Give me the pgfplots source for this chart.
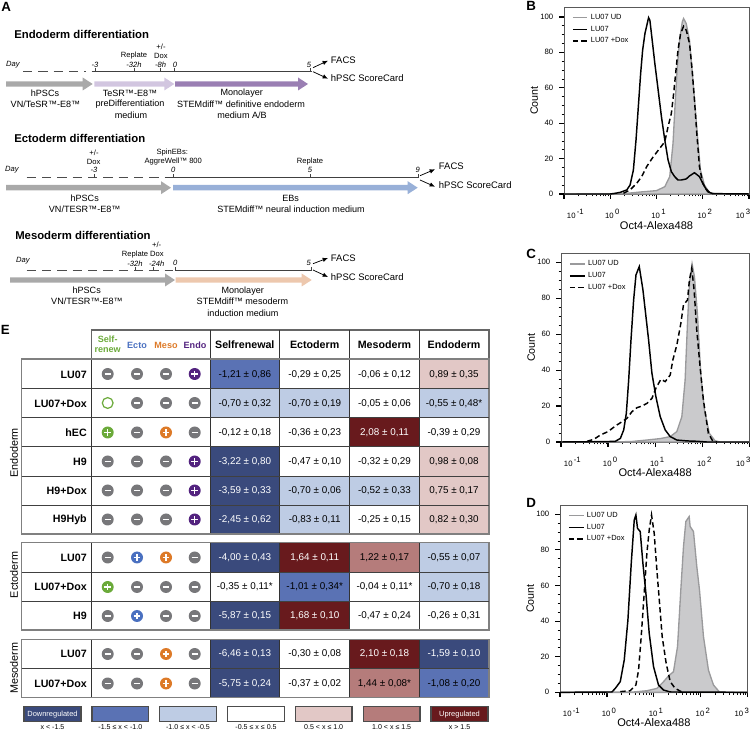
\documentclass[border=0pt]{standalone}
\usepackage{fontspec}
\setmainfont{Liberation Sans}
\usepackage{pgfplots}
\pgfplotsset{compat=1.18}
\definecolor{cDB}{HTML}{3A4A7C}
\definecolor{cMB}{HTML}{5A72B4}
\definecolor{cLB}{HTML}{BECCE4}
\definecolor{cPR}{HTML}{E2C8C6}
\definecolor{cMR}{HTML}{B57C7B}
\definecolor{cDR}{HTML}{681A1D}
\definecolor{cGreen}{HTML}{6BAA3A}
\definecolor{cBlue}{HTML}{4A70C0}
\definecolor{cOrange}{HTML}{DD7A28}
\definecolor{cPurple}{HTML}{53237F}
\definecolor{cIcon}{HTML}{77777A}
\definecolor{cFill}{HTML}{CACACC}
\definecolor{cEdge}{HTML}{9A9A9C}
\definecolor{aGray}{HTML}{A9A9A9}
\definecolor{aLilac}{HTML}{D2C6E0}
\definecolor{aPurple}{HTML}{9A7FB3}
\definecolor{aBlue}{HTML}{98B0D8}
\definecolor{aPeach}{HTML}{EDC8AE}
\newcommand\F[1]{\fontsize{#1}{#1}\selectfont}
\newcommand\TL[1]{10\,\raisebox{2.6pt}{#1}}
\pgfplotsset{flow/.style={
  scale only axis, xmin=-1,xmax=3,ymin=0, clip=false,
  axis line style={draw=black!65,line width=0.6pt},
  xtick={-1,0,1,2,3},
  xticklabels={\hspace*{17pt}\TL{-1},\hspace*{3pt}\TL{0},\hspace*{3pt}\TL{1},\hspace*{3pt}\TL{2},\TL{3}\hspace*{9pt}},
  minor xtick={-0.699,-0.523,-0.398,-0.301,-0.222,-0.155,-0.097,-0.046,0.301,0.477,0.602,0.699,0.778,0.845,0.903,0.954,1.301,1.477,1.602,1.699,1.778,1.845,1.903,1.954,2.301,2.477,2.602,2.699,2.778,2.845,2.903,2.954},
  ytick={0,20,40,60,80,100},
  minor ytick={5,10,15,25,30,35,45,50,55,65,70,75,85,90,95},
  tick align=outside, xtick pos=bottom, ytick pos=left,
  major tick length=3.5pt, minor tick length=1.8pt,
  major tick style={black,line width=0.9pt},
  minor tick style={black,line width=0.5pt},
  ticklabel style={font=\F{5.8}},
  /pgf/number format/assume math mode=true,
  xticklabel style={yshift=-4.5pt},
  yticklabel style={xshift=-1pt},
  xlabel={Oct4-Alexa488}, ylabel={Count},
  xlabel style={font=\F{8.3}},
  ylabel style={font=\F{8},yshift=-5pt},
  legend cell align=left,
  legend image code/.code={\draw[#1,fill=none] (0,0)--(11pt,0);},
  legend style={draw=none,fill=none,at={(0.035,0.985)},anchor=north west,font=\F{5.6},row sep=-0.6pt,inner sep=1pt},
  gr/.style={draw=cEdge,fill=cFill,line width=1pt},
  so/.style={black,line width=1.1pt},
  da/.style={black,line width=1.1pt,dash pattern=on 4pt off 2.4pt},
}}
% text helpers for the scope with pixel coordinates
\newcommand\Sm[3]{\node[font=\F{5.7},inner sep=0] at (#1,#2) {#3};}
\newcommand\It[3]{\node[font=\F{5.7}\itshape,inner sep=0] at (#1,#2) {#3};}
\newcommand\Ml[3]{\node[font=\F{6.8},inner sep=0] at (#1,#2) {#3};}
\newcommand\Ti[3]{\node[font=\F{8.5}\bfseries,anchor=west,inner sep=0] at (#1,#2) {#3};}
\newcommand\Pa[3]{\node[font=\F{10}\bfseries,anchor=west,inner sep=0] at (#1,#2) {#3};}
\newcommand\Ou[3]{\node[font=\F{7.1},anchor=west,inner sep=0] at (#1,#2) {#3};}
\newcommand\BA[4]{\fill[#4] (#1,{#3-2.7}) -- ({#2-10},{#3-2.7}) -- ({#2-10},{#3-6.5}) -- (#2,#3) -- ({#2-10},{#3+6.5}) -- ({#2-10},{#3+2.7}) -- (#1,{#3+2.7}) -- cycle;}
\newcommand\TK[2]{\draw[line width=0.45pt,black!75] (#1,#2) -- (#1,{#2-3.5});}
\newcommand\OA[4]{\draw[line width=0.55pt,-{Latex[length=4pt,width=3.4pt]}] (#1,#2) -- (#3,#4);}
\newcommand\Cell[5]{\addplot[fill=#5,draw=none,forget plot] coordinates {(#1,#3)(#2,#3)(#2,#4)(#1,#4)} -- cycle;}
\newcommand\M[2]{\fill[cIcon] (#1,#2) circle (6); \draw[white,line width=1.1pt] ({#1-3.2},#2) -- ({#1+3.2},#2);}
\newcommand\PP[3]{\fill[#1] (#2,#3) circle (6); \draw[white,line width=1.1pt] ({#2-3.3},#3) -- ({#2+3.3},#3) ({#2},{#3-3.3}) -- ({#2},{#3+3.3});}
\newcommand\RR[2]{\draw[cGreen,line width=0.9pt] (#1,#2) circle (5.4);}
\newcommand\Ics[5]{#2{107.7}{#1}#3{137}{#1}#4{166}{#1}#5{194.7}{#1}}
\newcommand\RT[6]{\node[font=\F{8}\bfseries,anchor=east,inner sep=0] at (87,#1) {#2};
  \node[font=\F{7.4},inner sep=0] at (244.8,#1) {#3};
  \node[font=\F{7.4},inner sep=0] at (314.7,#1) {#4};
  \node[font=\F{7.4},inner sep=0] at (384.5,#1) {#5};
  \node[font=\F{7.4},inner sep=0] at (454,#1) {#6};}
\newcommand\W[1]{\textcolor{white}{#1}}
\newcommand\LG[4]{\draw[black!70,line width=0.8pt,fill=#3] (#1,706.7) rectangle (#2,721.7);
  \node[font=\F{5.3},inner sep=0] at ({(#1+#2)/2},727) {#4};}
\usetikzlibrary{arrows.meta}
\begin{document}
\begin{tikzpicture}
\path[use as bounding box] (0,0) rectangle (564pt,548.25pt);
% heat map of panel E, in reference pixel coordinates
\begin{axis}[at={(0,0)},anchor=south west,scale only axis,width=564pt,height=548.25pt,
  xmin=0,xmax=752,ymin=0,ymax=731,y dir=reverse,hide axis,clip=false]
% Endoderm
\Cell{210}{279.7}{359}{388.7}{cMB}
\Cell{419.3}{489}{359}{388.7}{cPR}
\Cell{210}{279.7}{388.7}{417.7}{cLB}
\Cell{279.7}{349.7}{388.7}{417.7}{cLB}
\Cell{419.3}{489}{388.7}{417.7}{cLB}
\Cell{349.7}{419.3}{417.7}{446.7}{cDR}
\Cell{210}{279.7}{446.7}{476}{cDB}
\Cell{419.3}{489}{446.7}{476}{cPR}
\Cell{210}{279.7}{476}{505}{cDB}
\Cell{279.7}{349.7}{476}{505}{cLB}
\Cell{349.7}{419.3}{476}{505}{cLB}
\Cell{419.3}{489}{476}{505}{cPR}
\Cell{210}{279.7}{505}{534}{cDB}
\Cell{279.7}{349.7}{505}{534}{cLB}
\Cell{419.3}{489}{505}{534}{cPR}
% Ectoderm
\Cell{210}{279.7}{542.7}{572}{cDB}
\Cell{279.7}{349.7}{542.7}{572}{cDR}
\Cell{349.7}{419.3}{542.7}{572}{cMR}
\Cell{419.3}{489}{542.7}{572}{cLB}
\Cell{279.7}{349.7}{572}{601}{cMB}
\Cell{419.3}{489}{572}{601}{cLB}
\Cell{210}{279.7}{601}{630}{cDB}
\Cell{279.7}{349.7}{601}{630}{cDR}
% Mesoderm
\Cell{210}{279.7}{639.3}{668.7}{cDB}
\Cell{349.7}{419.3}{639.3}{668.7}{cDR}
\Cell{419.3}{489}{639.3}{668.7}{cDB}
\Cell{210}{279.7}{668.7}{697.7}{cDB}
\Cell{349.7}{419.3}{668.7}{697.7}{cMR}
\Cell{419.3}{489}{668.7}{697.7}{cMB}
\end{axis}

% Panel B
\begin{axis}[flow,at={(423pt,402.75pt)},anchor=south west,width=138.75pt,height=140.25pt,ymax=105.6,xlabel style={yshift=4.5pt}]
\addplot[gr] coordinates {(-1,0)(0.286,0.2)(0.643,1.1)(1,1.9)(1.179,4.1)(1.286,9.8)(1.357,28.6)(1.407,53)(1.45,71.8)(1.5,86.8)(1.557,97.2)(1.586,99.1)(1.643,96.2)(1.714,86.8)(1.764,71.8)(1.836,49.2)(1.893,30.5)(1.95,13.5)(2.036,5.1)(2.143,0.9)(2.286,0)(3,0)} \closedcycle;
\addlegendentry{LU07 UD}
\addplot[so] coordinates {(-1,0)(0,0)(0.107,0.4)(0.214,0.9)(0.357,2.3)(0.429,5.1)(0.5,13.5)(0.557,30.5)(0.607,49.2)(0.657,68)(0.7,81.2)(0.75,90.6)(0.829,99.6)(0.857,98.1)(0.907,86.8)(0.964,73.7)(1.036,58.6)(1.107,43.6)(1.179,30.5)(1.25,19.2)(1.321,12.6)(1.393,9.8)(1.464,7.9)(1.536,7.9)(1.643,8.5)(1.714,10.2)(1.821,12)(1.929,9.8)(2,6)(2.071,2.8)(2.143,0.9)(2.214,0.2)(3,0)};
\addlegendentry{LU07}
\addplot[da] coordinates {(0.286,0.4)(0.429,2.3)(0.571,6)(0.679,9.8)(0.786,15.4)(0.929,21)(1.071,25.8)(1.179,29.5)(1.25,38)(1.321,45.5)(1.371,56.8)(1.414,68)(1.464,81.2)(1.521,90.6)(1.586,94.7)(1.643,92.5)(1.714,85)(1.771,69.9)(1.821,53)(1.871,34.2)(1.929,15.4)(2,6)(2.107,1.3)(2.214,0.2)};
\addlegendentry{LU07 +Dox}
\end{axis}

% Panel C
\begin{axis}[flow,at={(420.75pt,216.75pt)},anchor=south west,width=141.2pt,height=141.5pt,ymax=105,xlabel style={yshift=5.5pt}]
\addplot[gr] coordinates {(-1,0)(0.473,0.2)(0.826,1.1)(1.108,1.9)(1.32,3)(1.461,5.8)(1.567,14.1)(1.637,34.5)(1.687,66)(1.729,88.3)(1.785,99.1)(1.835,92)(1.898,71.6)(1.969,38.2)(2.047,17.8)(2.152,4.8)(2.272,0.7)(2.378,0)(3,0)} \closedcycle;
\addlegendentry{LU07 UD}
\addplot[so] coordinates {(-1,0)(-0.056,0.2)(0.155,0.4)(0.261,2)(0.332,6.7)(0.388,16)(0.438,34.5)(0.487,56.8)(0.543,79)(0.593,93)(0.663,97.6)(0.685,93.9)(0.741,84.6)(0.797,71.6)(0.861,56.8)(0.932,38.2)(1.016,25.2)(1.108,14.1)(1.214,6.7)(1.32,3)(1.461,1.1)(1.673,0.6)(1.884,0.4)(2.096,0)(3,0)};
\addlegendentry{LU07}
\addplot[da] coordinates {(-0.445,0.4)(-0.303,1.5)(-0.162,3.9)(0,5.8)(0.155,8.9)(0.296,11.3)(0.402,13.2)(0.508,16.9)(0.614,19.1)(0.72,20)(0.826,21.5)(0.932,24.3)(1.016,29.9)(1.122,34.9)(1.214,33.6)(1.32,37.3)(1.376,45.6)(1.461,54)(1.546,66)(1.602,76.3)(1.687,79)(1.729,90.2)(1.778,96.7)(1.828,84.6)(1.884,62.3)(1.955,41.9)(2.025,23.4)(2.131,4.8)(2.223,0.6)(2.308,0)};
\addlegendentry{LU07 +Dox}
\end{axis}

% Panel D
\begin{axis}[flow,at={(420pt,29pt)},anchor=south west,width=140.8pt,height=140.5pt,ymax=105.2,xlabel style={yshift=5.5pt}]
\addplot[gr] coordinates {(-1,0)(0.567,0.2)(0.851,0.9)(1.064,2.2)(1.206,6)(1.312,9.2)(1.418,11.6)(1.504,25.7)(1.574,57.5)(1.631,81.8)(1.681,95.9)(1.752,98.7)(1.773,93.1)(1.844,90.3)(1.915,70.6)(1.972,57.5)(2.057,31.3)(2.163,12.5)(2.27,4.1)(2.397,0.2)(3,0)} \closedcycle;
\addlegendentry{LU07 UD}
\addplot[so] coordinates {(-1,0)(0.106,0.2)(0.177,2.2)(0.284,6)(0.369,18.2)(0.447,40.6)(0.518,72.5)(0.582,96.8)(0.617,99.6)(0.652,92.1)(0.709,90.3)(0.766,72.5)(0.83,55.6)(0.901,33.1)(0.993,14.4)(1.099,4.1)(1.206,1.3)(1.348,0.2)(3,0)};
\addlegendentry{LU07}
\addplot[da] coordinates {(0.284,0.4)(0.496,0.9)(0.617,4.1)(0.674,12.5)(0.73,31.3)(0.794,55.6)(0.851,78.1)(0.901,91.2)(0.95,99.6)(1.007,89.3)(1.064,68.7)(1.121,50)(1.177,31.3)(1.262,16.3)(1.348,6)(1.454,2.2)(1.596,0.2)};
\addlegendentry{LU07 +Dox}
\end{axis}

\begin{scope}[x=0.75pt,y=-0.75pt,yshift=548.25pt]
\Pa{1}{7}{A}\Pa{526}{6}{B}\Pa{526}{254}{C}\Pa{526}{502.7}{D}\Pa{0.5}{330}{E}

% --- A, endoderm
\Ti{14}{34}{Endoderm differentiation}
\It{13}{65}{Day}
\draw[line width=0.5pt,black!70,dash pattern=on 7pt off 4.5pt] (23,71.7) -- (86,71.7);
\draw[line width=0.5pt,black!75] (91.7,71.7) -- (311.7,71.7);
\TK{95}{71.7}\TK{134}{71.7}\TK{160.7}{71.7}\TK{174}{71.7}\TK{310}{71.7}
\It{95}{65}{-3}\It{134}{65}{-32h}\It{160.7}{65}{-8h}\It{175}{65}{0}\It{309}{65}{5}
\Sm{134}{55.7}{Replate}\Sm{161}{46.7}{+/-}\Sm{161}{55.7}{Dox}
\BA{6}{92.7}{84}{aGray}
\BA{94.3}{174.3}{84}{aLilac}
\BA{175}{308}{84}{aPurple}
\Ml{45}{93}{hPSCs}\Ml{45.5}{104}{VN/TeSR™-E8™}
\Ml{130}{93}{TeSR™-E8™}\Ml{130}{104}{preDifferentiation}\Ml{131}{115}{medium}
\Ml{241.7}{93}{Monolayer}\Ml{241}{104}{STEMdiff™ definitive endoderm}\Ml{242}{115}{medium A/B}
\OA{313}{67.7}{328}{60.7}\OA{313}{71.7}{328}{78.7}
\Ou{330.7}{60}{FACS}\Ou{330.7}{78.3}{hPSC ScoreCard}

% --- A, ectoderm
\Ti{14}{138.3}{Ectoderm differentiation}
\It{12}{170}{Day}
\draw[line width=0.5pt,black!70,dash pattern=on 7pt off 4.5pt] (26.7,177.7) -- (165,177.7);
\draw[line width=0.5pt,black!75] (165,177.7) -- (418,177.7);
\TK{94}{177.7}\TK{173}{177.7}\TK{310}{177.7}\TK{418}{177.7}
\Sm{94}{152.7}{+/-}\Sm{93.7}{161.7}{Dox}\It{94}{170}{-3}
\Sm{172.3}{152.7}{SpinEBs:}\Sm{173.3}{161.7}{AggreWell™ 800}\It{173.3}{170}{0}
\Sm{310}{161.7}{Replate}\It{310}{170}{5}\It{417.7}{170}{9}
\BA{6}{171}{187.7}{aGray}
\BA{173}{417.7}{187.7}{aBlue}
\Ml{84.7}{198.3}{hPSCs}\Ml{84.7}{209.3}{VN/TESR™-E8™}
\Ml{290.7}{198.3}{EBs}\Ml{291}{209.3}{STEMdiff™ neural induction medium}
\OA{420}{175.7}{435}{169.3}\OA{420}{180}{435}{186.7}
\Ou{438.7}{166}{FACS}\Ou{438.7}{185}{hPSC ScoreCard}

% --- A, mesoderm
\Ti{15}{235}{Mesoderm differentiation}
\It{23}{261}{Day}
\draw[line width=0.5pt,black!70,dash pattern=on 7pt off 4.5pt] (26.7,270.3) -- (173,270.3);
\draw[line width=0.5pt,black!75] (175,270.3) -- (311.7,270.3);
\TK{135}{270.3}\TK{153}{270.3}\TK{175}{270.3}\TK{311}{270.3}
\Sm{156.7}{245}{+/-}\Sm{135}{254.3}{Replate}\Sm{157}{254.3}{Dox}
\It{135}{263.3}{-32h}\It{156.7}{263.3}{-24h}\It{175.3}{263.3}{0}\It{308.7}{263.3}{5}
\BA{10}{175}{280}{aGray}
\BA{175.7}{311.7}{280}{aPeach}
\Ml{86.7}{290.7}{hPSCs}\Ml{87}{301.7}{VN/TESR™-E8™}
\Ml{242.7}{290.7}{Monolayer}\Ml{242.5}{301.7}{STEMdiff™ mesoderm}\Ml{243}{313.3}{induction medium}
\OA{313}{263.7}{328}{258}\OA{313}{270}{328}{277}
\Ou{330.7}{258.3}{FACS}\Ou{330.7}{276.7}{hPSC ScoreCard}

% --- E, grid
\draw[black!60,line width=0.9pt] (91.7,359) -- (91.7,330) -- (489,330) -- (489,359);
\foreach \x in {210,279.7,349.7,419.3} \draw[black!80,line width=0.55pt] (\x,330) -- (\x,359);
\foreach \yt/\yb in {359/534,542.7/630,639.3/697.7}{
  \foreach \x in {91.7,210,279.7,349.7,419.3} \draw[black!80,line width=0.55pt] (\x,\yt) -- (\x,\yb);
  \draw[black!50,line width=1pt] (21.7,\yt) rectangle (489,\yb);
}
\foreach \y in {388.7,417.7,446.7,476,505,572,601,668.7} \draw[black!75,line width=0.55pt] (21.7,\y) -- (489,\y);
% headers
\node[font=\F{6.8}\bfseries,text=cGreen,align=center,inner sep=0] at (107.7,344.5) {Self-\\[1pt]renew};
\node[font=\F{6.8}\bfseries,text=cBlue,inner sep=0] at (137,345.5) {Ecto};
\node[font=\F{6.8}\bfseries,text=cOrange,inner sep=0] at (166,345.5) {Meso};
\node[font=\F{6.8}\bfseries,text=cPurple,inner sep=0] at (195,345.5) {Endo};
\foreach \x/\t in {244.8/Selfrenewal,314.7/Ectoderm,384.5/Mesoderm,454/Endoderm}
  \node[font=\F{8}\bfseries,inner sep=0] at (\x,344.5) {\t};
% side labels
\node[font=\F{8.1},rotate=90,inner sep=0] at (14,453) {Endoderm};
\node[font=\F{8.1},rotate=90,inner sep=0] at (14,575) {Ectoderm};
\node[font=\F{8.1},rotate=90,inner sep=0] at (14,668) {Mesoderm};
% rows
\RT{374.5}{LU07}{-1,21 ± 0,86}{-0,29 ± 0,25}{-0,06 ± 0,12}{0,89 ± 0,35}
\Ics{374}{\M}{\M}{\M}{\PP{cPurple}}
\RT{403.5}{LU07+Dox}{-0,70 ± 0,32}{-0,70 ± 0,19}{-0,05 ± 0,06}{-0,55 ± 0,48*}
\Ics{403}{\RR}{\M}{\M}{\M}
\RT{432.5}{hEC}{-0,12 ± 0,18}{-0,36 ± 0,23}{\W{2,08 ± 0,11}}{-0,39 ± 0,29}
\Ics{432.5}{\PP{cGreen}}{\M}{\PP{cOrange}}{\M}
\RT{461.5}{H9}{\W{-3,22 ± 0,80}}{-0,47 ± 0,10}{-0,32 ± 0,29}{0,98 ± 0,08}
\Ics{461.5}{\M}{\M}{\M}{\PP{cPurple}}
\RT{490.5}{H9+Dox}{\W{-3,59 ± 0,33}}{-0,70 ± 0,06}{-0,52 ± 0,33}{0,75 ± 0,17}
\Ics{490.5}{\M}{\M}{\M}{\PP{cPurple}}
\RT{519.5}{H9Hyb}{\W{-2,45 ± 0,62}}{-0,83 ± 0,11}{-0,25 ± 0,15}{0,82 ± 0,30}
\Ics{519.5}{\M}{\M}{\M}{\PP{cPurple}}
\RT{557.5}{LU07}{\W{-4,00 ± 0,43}}{\W{1,64 ± 0,11}}{1,22 ± 0,17}{-0,55 ± 0,07}
\Ics{557.5}{\M}{\PP{cBlue}}{\PP{cOrange}}{\M}
\RT{587}{LU07+Dox}{-0,35 ± 0,11*}{-1,01 ± 0,34*}{-0,04 ± 0,11*}{-0,70 ± 0,18}
\Ics{587}{\PP{cGreen}}{\M}{\M}{\M}
\RT{616}{H9}{\W{-5,87 ± 0,15}}{\W{1,68 ± 0,10}}{-0,47 ± 0,24}{-0,26 ± 0,31}
\Ics{616}{\M}{\PP{cBlue}}{\M}{\M}
\RT{654}{LU07}{\W{-6,46 ± 0,13}}{-0,30 ± 0,08}{\W{2,10 ± 0,18}}{\W{-1,59 ± 0,10}}
\Ics{654}{\M}{\M}{\PP{cOrange}}{\M}
\RT{683.5}{LU07+Dox}{\W{-5,75 ± 0,24}}{-0,37 ± 0,02}{1,44 ± 0,08*}{-1,08 ± 0,20}
\Ics{683.5}{\M}{\M}{\PP{cOrange}}{\M}
% colour key
\LG{24}{81}{cDB}{x < -1.5}
\LG{92}{148.7}{cMB}{-1.5 ≤ x < -1.0}
\LG{159.7}{216.3}{cLB}{-1.0 ≤ x < -0.5}
\LG{227.7}{284.3}{white}{-0.5 ≤ x ≤ 0.5}
\LG{295.3}{352}{cPR}{0.5 < x ≤ 1.0}
\LG{363.3}{420}{cMR}{1.0 < x ≤ 1.5}
\LG{431}{488}{cDR}{x > 1.5}
\node[font=\F{5.6},text=white,inner sep=0] at (52.5,714.2) {Downregulated};
\node[font=\F{5.6},text=white,inner sep=0] at (459.5,714.2) {Upregulated};
\end{scope}
\end{tikzpicture}
\end{document}
